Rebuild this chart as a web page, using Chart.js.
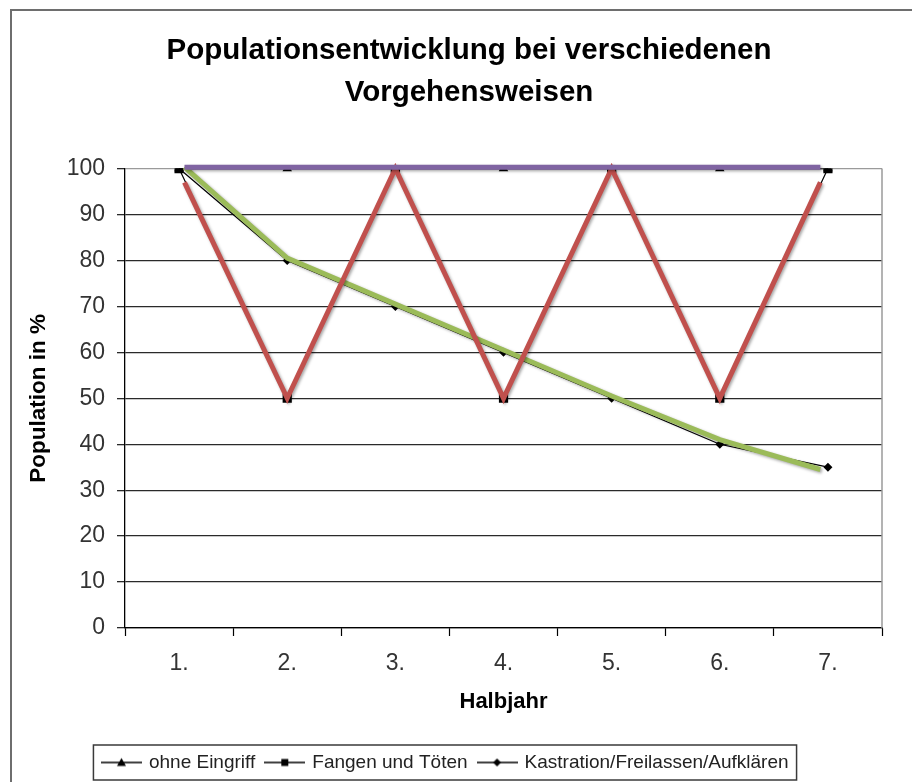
<!DOCTYPE html>
<html lang="de">
<head>
<meta charset="utf-8">
<title>Populationsentwicklung</title>
<script src="https://cdn.jsdelivr.net/npm/chart.js@4.4.0/dist/chart.umd.min.js"></script>
<style>
  html, body { margin: 0; padding: 0; background: #fff; }
  #wrap { width: 912px; height: 782px; }
</style>
</head>
<body>
<div id="wrap"><canvas id="chart" width="912" height="782"></canvas></div>
<script>
// ---------- Daten ----------
const halbjahre = ['1.', '2.', '3.', '4.', '5.', '6.', '7.'];
const serienNamen = ['ohne Eingriff', 'Fangen und Töten', 'Kastration/Freilassen/Aufklären'];
const ohneEingriff = [100, 100, 100, 100, 100, 100, 100];
const fangenToeten = [100, 50, 100, 50, 100, 50, 100];
const kastration = [100, 80, 70, 60, 50, 40, 35];

// farbige, von Hand darübergelegte Linien (x = Halbjahr)
const lilaX = [1.05, 6.93];
const lilaY = [100.3, 100.3];
const rotX = [1.05, 2, 3, 4, 5, 6, 6.93];
const rotY = [97, 50, 100, 50, 100, 50, 97];
const gruenX = [1.05, 2, 3, 4, 5, 6, 6.93];
const gruenY = [100.3, 80.5, 70.5, 60.5, 50.5, 41, 34.5];

const FONT = "'Liberation Sans', Arial, sans-serif";
Chart.defaults.font.family = FONT;

function pts(xs, ys) {
    return xs.map((x, i) => ({ x: x, y: ys[i] }));
}

// kleine Legendensymbole: Linie mit Marker
function legendIcon(kind) {
    const c = document.createElement('canvas');
    c.width = 41; c.height = 12;
    const g = c.getContext('2d');
    g.strokeStyle = '#000'; g.fillStyle = '#000'; g.lineWidth = 1.5;
    g.beginPath(); g.moveTo(0, 6); g.lineTo(41, 6); g.stroke();
    g.beginPath();
    if (kind === 'triangle') {
        g.moveTo(20.5, 1.5); g.lineTo(25, 9.5); g.lineTo(16, 9.5);
    } else if (kind === 'rect') {
        g.rect(17, 2.5, 7, 7);
    } else {
        g.moveTo(20.5, 2); g.lineTo(24.5, 6); g.lineTo(20.5, 10); g.lineTo(16.5, 6);
    }
    g.closePath(); g.fill();
    return c;
}
const legendIcons = [legendIcon('triangle'), legendIcon('rect'), legendIcon('diamond')];

function blackSeries(label, data, style, r) {
    return {
        label: label, data: data, xAxisID: 'x', yAxisID: 'y',
        borderColor: '#000', borderWidth: 1.2, backgroundColor: '#000',
        pointStyle: style, pointRadius: r, pointBackgroundColor: '#000',
        pointBorderColor: '#000', pointBorderWidth: 0, tension: 0, order: 2
    };
}
function overlay(label, xs, ys, color) {
    return {
        label: label, data: pts(xs, ys), xAxisID: 'xl', yAxisID: 'y', overlay: true,
        borderColor: color, borderWidth: 5, pointRadius: 0, tension: 0,
        borderCapStyle: 'butt', borderJoinStyle: 'miter', clip: false, order: 0
    };
}

// Rahmen, Legendenkasten, Schatten
const extras = {
    id: 'extras',
    afterLayout(chart) {
        // Titel über dem ganzen Diagrammobjekt zentrieren
        const t = chart.titleBlock;
        if (t) { t.left += 23; t.right += 23; }
    },
    beforeDatasetDraw(chart, args) {
        if (args.meta._dataset.overlay) {
            const ctx = chart.ctx;
            ctx.save();
            ctx.shadowColor = 'rgba(0,0,0,0.35)';
            ctx.shadowBlur = 3;
            ctx.shadowOffsetX = 1.5;
            ctx.shadowOffsetY = 1.5;
        }
    },
    afterDatasetDraw(chart, args) {
        if (args.meta._dataset.overlay) chart.ctx.restore();
    },
    afterDraw(chart) {
        const ctx = chart.ctx;
        const a = chart.chartArea;
        ctx.save();
        // rechte Begrenzung der Zeichenfläche
        ctx.strokeStyle = '#9a9a9a';
        ctx.lineWidth = 1.5;
        ctx.beginPath(); ctx.moveTo(a.right, a.top); ctx.lineTo(a.right, a.bottom); ctx.stroke();
        // Außenrahmen
        ctx.strokeStyle = '#6e6e6e';
        ctx.lineWidth = 2;
        ctx.strokeRect(11, 10, 920, 800);
        // Legendenkasten
        const hb = chart.legend.legendHitBoxes;
        if (hb && hb.length) {
            const l = Math.min(...hb.map(h => h.left)) - 10;
            const r = Math.max(...hb.map(h => h.left + h.width)) + 8;
            const cy = hb[0].top + hb[0].height / 2;
            ctx.strokeStyle = '#3a3a3a';
            ctx.lineWidth = 1.5;
            ctx.strokeRect(l, cy - 17.5, r - l, 35);
        }
        ctx.restore();
    }
};

new Chart(document.getElementById('chart'), {
    type: 'line',
    data: {
        labels: halbjahre,
        datasets: [
            blackSeries(serienNamen[0], ohneEingriff, 'triangle', 5.5),
            blackSeries(serienNamen[1], fangenToeten, 'rect', 6.5),
            blackSeries(serienNamen[2], kastration, 'rectRot', 4.5),
            overlay('lila', lilaX, lilaY, '#8064A2'),
            overlay('rot', rotX, rotY, '#C0504D'),
            overlay('gruen', gruenX, gruenY, '#9BBB59')
        ]
    },
    options: {
        responsive: false,
        animation: false,
        layout: { padding: { left: 10, right: 30, top: 0, bottom: 0 } },
        plugins: {
            title: {
                display: true,
                text: ['Populationsentwicklung bei verschiedenen', 'Vorgehensweisen'],
                color: '#000',
                font: { size: 29.5, weight: 'bold', lineHeight: 1.45 },
                padding: { top: 29, bottom: 54 }
            },
            legend: {
                position: 'bottom',
                labels: {
                    usePointStyle: true,
                    pointStyleWidth: 36,
                    padding: 11.5,
                    color: '#222',
                    font: { size: 19, lineHeight: 1 },
                    generateLabels: () => serienNamen.map((name, i) => ({
                        text: name, pointStyle: legendIcons[i], datasetIndex: i,
                        fillStyle: '#000', strokeStyle: '#000', lineWidth: 0,
                        hidden: false, fontColor: '#222'
                    }))
                },
                onClick: () => {}
            },
            tooltip: { enabled: false }
        },
        scales: {
            x: {
                type: 'category',
                offset: true,
                grid: {
                    offset: true, drawOnChartArea: false, drawTicks: true,
                    tickLength: 8, tickColor: '#000', tickWidth: 1.2
                },
                border: { color: '#000', width: 1.2 },
                ticks: { color: '#333', font: { size: 23 }, padding: 14, maxRotation: 0 },
                title: {
                    display: true, text: 'Halbjahr', color: '#000',
                    font: { size: 22, weight: 'bold' },
                    padding: { top: 0, bottom: 26 }
                },
                afterFit(s) { s.height = 113.5; }
            },
            xl: {
                type: 'linear', display: false, min: 0.5, max: 7.5
            },
            y: {
                min: 0, max: 100,
                ticks: { stepSize: 10, color: '#333', font: { size: 23 }, padding: 12 },
                grid: {
                    color: (c) => (c.tick && c.tick.value === 100) ? '#9a9a9a' : '#2a2a2a',
                    lineWidth: 1.3, tickLength: 8, tickColor: '#2a2a2a', tickWidth: 1.3
                },
                border: { color: '#000', width: 1.3 },
                title: {
                    display: true, text: 'Population in %', color: '#000',
                    font: { size: 22.5, weight: 'bold' },
                    padding: { top: 15, bottom: 0 }
                },
                afterFit(s) { s.width = 115; }
            }
        }
    },
    plugins: [extras]
});
</script>
</body>
</html>
